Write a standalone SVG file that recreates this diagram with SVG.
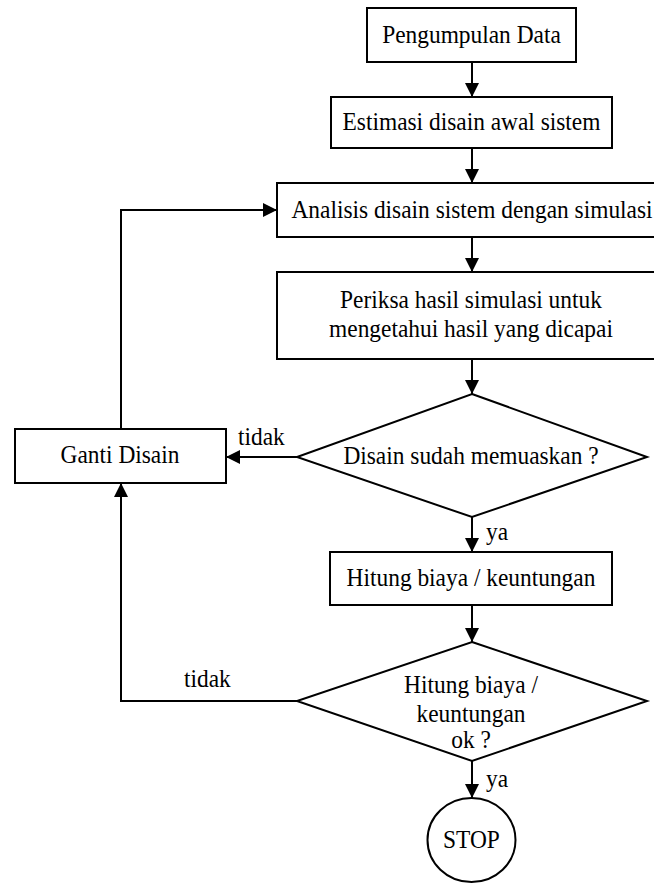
<svg xmlns="http://www.w3.org/2000/svg" width="654" height="884" viewBox="0 0 654 884">
<style>
.box{fill:#fff;stroke:#000;stroke-width:2}
text{font-family:"Liberation Serif","DejaVu Serif",serif;font-size:26px;fill:#000}
.t{text-anchor:middle}
.c{fill:none;stroke:#000;stroke-width:2}
</style>
<defs>
<marker id="ah" markerUnits="userSpaceOnUse" markerWidth="14" markerHeight="14" viewBox="0 0 14 14" refX="14" refY="7" orient="auto">
<path d="M0,0 L14,7 L0,14 Z" fill="#000"/>
</marker>
</defs>
<rect width="654" height="884" fill="#fff"/>
<g id="connectors">
<path class="c" d="M472,62 V97" marker-end="url(#ah)"/>
<path class="c" d="M472,148 V183" marker-end="url(#ah)"/>
<path class="c" d="M472,237 V272" marker-end="url(#ah)"/>
<path class="c" d="M472,359 V394" marker-end="url(#ah)"/>
<path class="c" d="M297,457 H226" marker-end="url(#ah)"/>
<path class="c" d="M472,517 V552" marker-end="url(#ah)"/>
<path class="c" d="M472,605 V642" marker-end="url(#ah)"/>
<path class="c" d="M297,701 H121 V483" marker-end="url(#ah)"/>
<path class="c" d="M121,429 V210 H277" marker-end="url(#ah)"/>
<path class="c" d="M472,761 V798" marker-end="url(#ah)"/>
<text transform="translate(238,445) scale(0.9,1)">tidak</text>
<text transform="translate(486,540) scale(0.9,1)">ya</text>
<text transform="translate(184,687) scale(0.9,1)">tidak</text>
<text transform="translate(486,787) scale(0.9,1)">ya</text>
</g>
<g id="n1">
<rect class="box" x="367" y="8" width="209" height="54"/>
<text class="t" transform="translate(471.5,43) scale(0.9,1)">Pengumpulan Data</text>
</g>
<g id="n2">
<rect class="box" x="331" y="97" width="281" height="51"/>
<text class="t" transform="translate(471.5,130) scale(0.9,1)">Estimasi disain awal sistem</text>
</g>
<g id="n3">
<rect class="box" x="277" y="183" width="390" height="54"/>
<text class="t" transform="translate(472,218) scale(0.9,1)">Analisis disain sistem dengan simulasi</text>
</g>
<g id="n4">
<rect class="box" x="277" y="272" width="390" height="87"/>
<text class="t" transform="translate(471,308) scale(0.9,1)">Periksa hasil simulasi untuk</text>
<text class="t" transform="translate(471,337) scale(0.9,1)">mengetahui hasil yang dicapai</text>
</g>
<g id="d1">
<polygon class="box" points="472,394 647,457 472,517 297,457"/>
<text class="t" transform="translate(471,464) scale(0.9,1)">Disain sudah memuaskan ?</text>
</g>
<g id="n5">
<rect class="box" x="15" y="429" width="211" height="54"/>
<text class="t" transform="translate(120,463) scale(0.9,1)">Ganti Disain</text>
</g>
<g id="n6">
<rect class="box" x="330" y="552" width="282" height="53"/>
<text class="t" transform="translate(471,586) scale(0.9,1)">Hitung biaya / keuntungan</text>
</g>
<g id="d2">
<polygon class="box" points="472,642 647,701 472,761 297,701"/>
<text class="t" transform="translate(471,693) scale(0.9,1)">Hitung biaya /</text>
<text class="t" transform="translate(471,722) scale(0.9,1)">keuntungan</text>
<text class="t" transform="translate(471,748) scale(0.9,1)">ok ?</text>
</g>
<g id="stop">
<ellipse class="box" cx="471.5" cy="840" rx="44" ry="42"/>
<text class="t" transform="translate(471.5,848) scale(0.9,1)">STOP</text>
</g>
</svg>
